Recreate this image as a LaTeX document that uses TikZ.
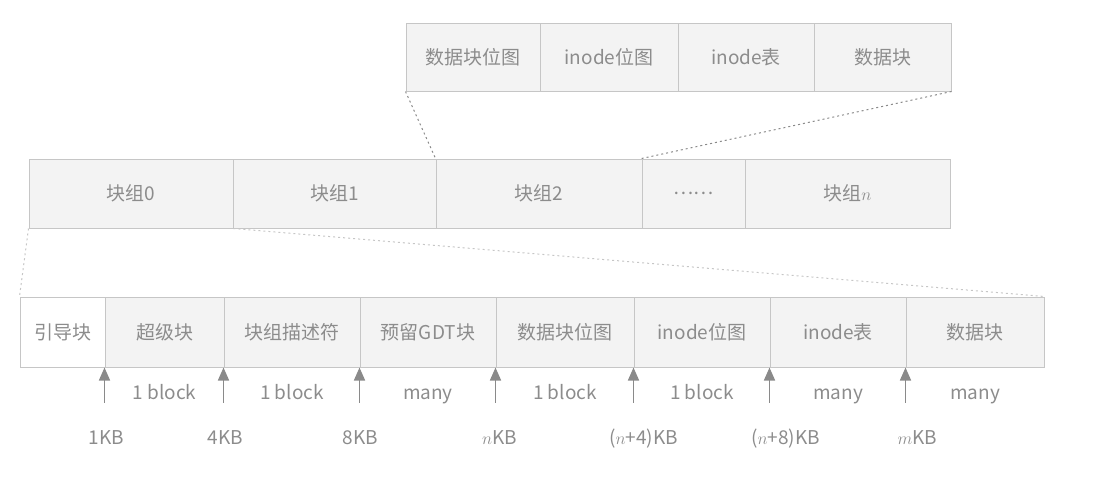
\documentclass[tikz,border=0pt]{standalone}
\usepackage{fontspec}
\setmainfont{Noto Sans CJK SC}
\usepackage{tikz}
\usetikzlibrary{arrows.meta}
\definecolor{cellline}{HTML}{C6C6C6}
\definecolor{cellfill}{HTML}{F3F3F3}
\definecolor{celltext}{HTML}{8C8C8C}
\definecolor{ptrgray}{HTML}{8A8A8A}

\begin{document}
\begin{tikzpicture}[x=1pt,y=-1pt,
  every node/.style={inner sep=0pt,text=celltext,font=\fontsize{19}{21}\selectfont},
  cell/.style={rectangle,draw=cellline,fill=cellfill,line width=1pt},
  zoomline/.style={ptrgray,line width=1pt,dash pattern=on 2pt off 3pt},
  faintline/.style={cellline,line width=1pt,dash pattern=on 2pt off 3pt},
  ptr/.style={draw=ptrgray,fill=ptrgray,line width=1.6pt,-{Triangle[length=13pt,width=11pt]}}]

  \useasboundingbox (0,0) rectangle (1099,491);

  % Blocks of one block group
  \node[cell,minimum width=134pt,minimum height=68pt] (t1) at (473,57) {数据块位图};
  \node[cell,minimum width=138pt,minimum height=68pt] (t2) at (609,57) {inode位图};
  \node[cell,minimum width=136pt,minimum height=68pt] (t3) at (746,57) {inode表};
  \node[cell,minimum width=137pt,minimum height=68pt] (t4) at (882.5,57) {数据块};

  % Block groups
  \node[cell,minimum width=204pt,minimum height=69pt] (g0) at (131,193.5) {块组0};
  \node[cell,minimum width=203pt,minimum height=69pt] (g1) at (334.5,193.5) {块组1};
  \node[cell,minimum width=206pt,minimum height=69pt] (g2) at (539,193.5) {块组2};
  \node[cell,minimum width=103pt,minimum height=69pt] (gdots) at (693.5,193.5) {……};
  \node[cell,minimum width=205pt,minimum height=69pt] (gn) at (847.5,193.5) {块组$n$};

  % Layout of block group 0
  \node[cell,fill=white,minimum width=85pt,minimum height=70pt] (b1) at (62.5,332) {引导块};
  \node[cell,minimum width=119pt,minimum height=70pt] (b2) at (164.5,332) {超级块};
  \node[cell,minimum width=136pt,minimum height=70pt] (b3) at (292,332) {块组描述符};
  \node[cell,minimum width=136pt,minimum height=70pt] (b4) at (428,332) {预留GDT块};
  \node[cell,minimum width=138pt,minimum height=70pt] (b5) at (565,332) {数据块位图};
  \node[cell,minimum width=136pt,minimum height=70pt] (b6) at (702,332) {inode位图};
  \node[cell,minimum width=136pt,minimum height=70pt] (b7) at (838,332) {inode表};
  \node[cell,minimum width=138pt,minimum height=70pt] (b8) at (975,332) {数据块};

  % Zoom lines
  \draw[zoomline] (t1.south west) -- (g2.north west);
  \draw[zoomline] (t4.south east) -- (gdots.north west);
  \draw[faintline] (g0.south west) -- (b1.north west);
  \draw[faintline] (g0.south east) -- (b8.north east);

  % Offsets
  \foreach \i in {2,...,8} {
    \coordinate (a\i) at ([yshift=-35pt]b\i.south west);
    \draw[ptr] (a\i) -- (b\i.south west);
  }

  % Sizes
  \foreach \i/\t in {2/1 block,3/1 block,4/many,5/1 block,6/1 block,7/many,8/many} {
    \node[anchor=base] (sz\i) at ([yshift=-32pt]b\i.south) {\t};
  }

  % Addresses
  \foreach \i/\dx/\t in {2/2/1KB,3/2/4KB,4/1/8KB,5/4/$n$KB,6/10/($n$+4)KB,7/16/($n$+8)KB,8/12/$m$KB} {
    \node[anchor=base] (kb\i) at ([xshift=\dx pt,yshift=-77pt]b\i.south west) {\t};
  }
\end{tikzpicture}
\end{document}
